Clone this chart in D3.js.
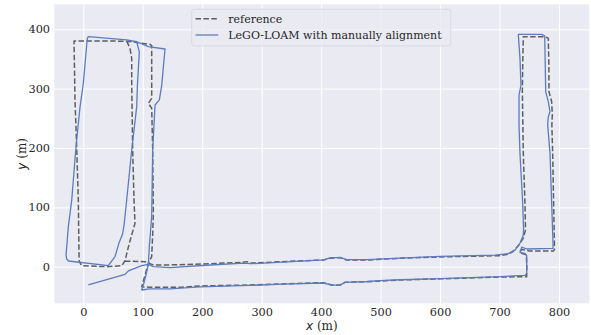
<!DOCTYPE html>
<html>
<head>
<meta charset="utf-8">
<script src="https://cdn.jsdelivr.net/npm/d3@7"></script>
<style>
  html, body { margin: 0; padding: 0; background: #ffffff; }
  svg { display: block; }
  text { font-family: "DejaVu Serif", serif; }
</style>
</head>
<body>
<svg id="chart" width="591" height="335"></svg>
<script>
// ---- data (metres) ----
const xTicks = [0, 100, 200, 300, 400, 500, 600, 700, 800];
const yTicks = [0, 100, 200, 300, 400];
const seriesNames = ["reference", "LeGO-LOAM with manually alignment"];

// reference trajectory (dashed)
const referenceX = [70,104,109.4,118,145,200,269,275,282,359,404,415,432,443,477,533,600,700,715,723,733,740,743.7,742.8,740,738.4,739,740,
  776.5,782,783,783.2,787.7,788.8,788,789.4,791,792.5,791,750,738,734,738,745,746,745.7,
  701,600,533,477,440,432,418,404,336,280,196,168,112,98.2,104,109.4,115,116.7,117.8,116.7,115,109.4,115,115,115,112.2,
  73,-15.6,-14,-11,-8.4,-7.2,-6.7,-2.7,39,64.6,70,77,86.9,85.3,83,81.4,81.4,78.5,73];
const referenceY = [9.6,8.4,6,3,3,4.5,7.4,8.5,6,9.6,11.3,14.2,15.2,11.3,11.3,14.2,16.5,18.5,21,26,37,48,62,107,191,295,340,387.5,
  387.5,385,340,295,278,256,239,191,107,30,26.5,26.5,29,26,22,20,0,-16.8,
  -17.5,-20.5,-22.4,-25.3,-26.3,-30.8,-30.8,-27,-29.1,-30.8,-32.5,-34.5,-34.7,-33.7,-14,6,17,56,90,197,267,275.3,283.7,306,372.4,374.7,
  380,380.3,281,196.6,112,17,8.4,1.7,0,1.7,9.6,38,73,112,196.6,309,351,368,380];

// LeGO-LOAM trajectory (solid)
const legoX = [8.4,70.1,75.7,98.2,109.4,117.7,145.8,200,269,282,359,404,415,432,443,477,533,600,692.5,714.8,726,734.4,740,740.5,739,734.4,732.8,732.8,736.1,734.4,731.6,
  771,776,777.7,782,784.9,782,781,784.9,787.7,790,790,745.7,737.3,734.4,742.8,745.7,745.7,743,
  700.8,600,533,499,477,440,432,418,404,336,280,196,145.8,112,98.2,101,105.4,109.4,111,115,116.7,120.6,127.9,131.9,137.4,109.4,89.8,73,8.4,6.7,
  0,-5.5,-12.3,-19.5,-25.2,-29,-28,-25,42,53.3,60,66,68.5,71.8,81.4,89.8,91,94.2,89.8];
const legoY = [-30.8,-12.9,-7.2,1.7,4,0,-1.6,2,6,5,9,11.5,14.8,15.8,12,11.8,14.5,17.5,19.5,22,28,39.4,53.4,62,107,191,239,289,306,351,391.5,
  391.5,389,295,278,261,252.7,239,191,107,40,31,29.8,33,24,22.5,19,-11,-14.5,
  -16.8,-20,-22,-23.6,-25,-26.5,-31,-31,-27.5,-29.5,-31.5,-34,-37.5,-37.5,-39.3,-30.8,-14,4,33.7,85,197,272.5,281,306,366.8,370.7,379,382,387.5,384.8,
  309,269.6,202,112,67.4,20,13,9.6,1.7,17,40,55,70,101,196.6,269.6,306,362,379];

// ---- layout ----
const plot = { left: 54.3, right: 589.3, top: 4.3, bottom: 303.3 };
const svg = d3.select("#chart");
const x = d3.scaleLinear().domain([-48.8, 851]).range([plot.left, plot.right]);
const y = d3.scaleLinear().domain([-61.7, 442.1]).range([plot.bottom, plot.top]);

svg.append("rect")
  .attr("x", plot.left).attr("y", plot.top)
  .attr("width", plot.right - plot.left).attr("height", plot.bottom - plot.top)
  .attr("fill", "#EAEAF2");

// axes with gridlines
const gx = svg.append("g")
  .attr("transform", `translate(0,${plot.bottom})`)
  .call(d3.axisBottom(x).tickValues(xTicks).tickSize(-(plot.bottom - plot.top)).tickPadding(5));
const gy = svg.append("g")
  .attr("transform", `translate(${plot.left},0)`)
  .call(d3.axisLeft(y).tickValues(yTicks).tickSize(-(plot.right - plot.left)).tickPadding(4.3));
[gx, gy].forEach(g => {
  g.select(".domain").remove();
  g.selectAll(".tick line").attr("stroke", "#ffffff").attr("stroke-width", 1);
  g.selectAll(".tick text").attr("fill", "#262626").attr("font-size", 11.3)
    .attr("font-family", "DejaVu Serif");
});

// trajectories
const line = d3.line().x(d => x(d[0])).y(d => y(d[1]));
const refPts = referenceX.map((v, i) => [v, referenceY[i]]);
const legoPts = legoX.map((v, i) => [v, legoY[i]]);

svg.append("path").datum(refPts)
  .attr("d", line).attr("fill", "none")
  .attr("stroke", "#5f5f5f").attr("stroke-width", 1.5)
  .attr("stroke-dasharray", "5.5,2.4").attr("stroke-linejoin", "round");
svg.append("path").datum(legoPts)
  .attr("d", line).attr("fill", "none")
  .attr("stroke", "#5B7DBF").attr("stroke-width", 1.3)
  .attr("stroke-linejoin", "round");

// axis labels
const xl = svg.append("text").attr("x", (plot.left + plot.right) / 2).attr("y", 329.5)
  .attr("text-anchor", "middle").attr("font-size", 12).attr("fill", "#262626");
xl.append("tspan").attr("font-style", "italic").attr("font-family", "DejaVu Sans").text("x");
xl.append("tspan").text(" (m)");
const yl = svg.append("text")
  .attr("transform", `translate(26,${(plot.top + plot.bottom) / 2}) rotate(-90)`)
  .attr("text-anchor", "middle").attr("font-size", 12).attr("fill", "#262626");
yl.append("tspan").attr("font-style", "italic").attr("font-family", "DejaVu Sans").text("y");
yl.append("tspan").text(" (m)");

// legend
const lg = svg.append("g");
lg.append("rect").attr("x", 191.7).attr("y", 9.3).attr("width", 259).attr("height", 36.7)
  .attr("rx", 2.5).attr("fill", "rgba(234,234,242,0.8)").attr("stroke", "#d4d4dc").attr("stroke-width", 0.8);
const legendItems = [
  { name: seriesNames[0], stroke: "#5f5f5f", dash: "5.5,2.4", w: 1.5 },
  { name: seriesNames[1], stroke: "#5B7DBF", dash: null, w: 1.3 }
];
legendItems.forEach((it, i) => {
  const cy = 18.7 + i * 16.3;
  lg.append("line").attr("x1", 195.5).attr("x2", 218.3).attr("y1", cy).attr("y2", cy)
    .attr("stroke", it.stroke).attr("stroke-width", it.w)
    .attr("stroke-dasharray", it.dash);
  lg.append("text").attr("x", 228.3).attr("y", cy + 3.8).attr("font-size", 11)
    .attr("fill", "#262626").text(it.name);
});
</script>
</body>
</html>
